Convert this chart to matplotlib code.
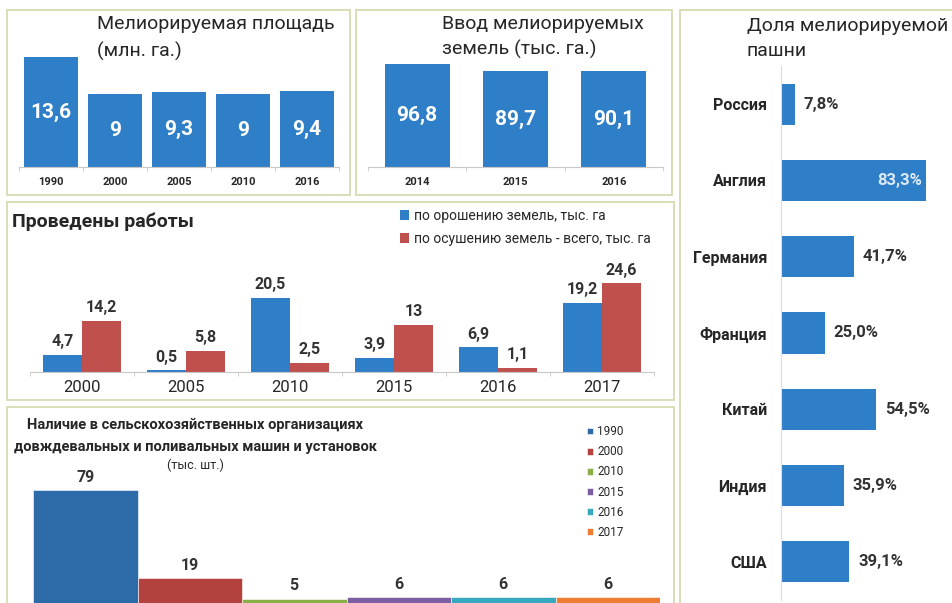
import matplotlib
matplotlib.use('Agg')
import matplotlib.pyplot as plt
from matplotlib.patches import Rectangle
from matplotlib.ticker import FixedLocator
import numpy as np

plt.rcParams['font.family'] = ['Roboto', 'DejaVu Sans']

# --- данные ---
area_years = ['1990', '2000', '2005', '2010', '2016']
area_values = [13.6, 9, 9.3, 9, 9.4]

input_years = ['2014', '2015', '2016']
input_values = [96.8, 89.7, 90.1]

countries = ['Россия', 'Англия', 'Германия', 'Франция', 'Китай', 'Индия', 'США']
country_share = [7.8, 83.3, 41.7, 25.0, 54.5, 35.9, 39.1]

work_years = ['2000', '2005', '2010', '2015', '2016', '2017']
irrigation = [4.7, 0.5, 20.5, 3.9, 6.9, 19.2]
drainage = [14.2, 5.8, 2.5, 13, 1.1, 24.6]

machine_years = ['1990', '2000', '2010', '2015', '2016', '2017']
machines = [79, 19, 5, 6, 6, 6]

BLUE = '#2f7ec8'
RED = '#c0504d'
machine_colors = ['#2c6aa8', '#b3413e', '#8aaf47', '#7c5ea3', '#38a7c0', '#ec7d33']
BORDER = '#d5dbb2'
AXIS = '#c8c8c8'
TXT = '#262626'

W, H = 952, 603
fig = plt.figure(figsize=(W / 100, H / 100), dpi=100)


def px_axes(x0, y0, x1, y1):
    return fig.add_axes([x0 / W, 1 - y1 / H, (x1 - x0) / W, (y1 - y0) / H])


def box(x0, y0, x1, y1):
    fig.add_artist(Rectangle((x0 / W, 1 - y1 / H), (x1 - x0) / W, (y1 - y0) / H,
                             transform=fig.transFigure, fill=False, ec=BORDER, lw=1.3))


def ftext(x, y, s, **kw):
    fig.text(x / W, 1 - y / H, s, color=TXT, **kw)


def comma(v):
    return f'{v:g}'.replace('.', ',')


def bottom_axis(ax, n):
    for s in ['top', 'right', 'left']:
        ax.spines[s].set_visible(False)
    ax.spines['bottom'].set_color(AXIS)
    ax.set_yticks([])
    ax.set_xticks(range(n))
    ax.xaxis.set_minor_locator(FixedLocator(np.arange(n + 1) - 0.5))
    ax.tick_params(axis='x', which='major', length=0)
    ax.tick_params(axis='x', which='minor', length=3, color=AXIS, direction='out')
    ax.set_facecolor('none')


box(7, 10, 350, 195)
box(356, 10, 672, 195)
box(680, 10, 965, 620)
box(7, 202, 674, 400)
box(7, 407, 674, 620)

# 1. Мелиорируемая площадь
ax1 = px_axes(19, 20, 339, 167)
x = np.arange(len(area_years))
ax1.bar(x, area_values, width=0.83, color=BLUE)
for xi, v in zip(x, area_values):
    ax1.text(xi, v / 2, comma(v), ha='center', va='center', color='white',
             fontsize=15, fontweight='bold')
ax1.set_xlim(-0.5, 4.5)
ax1.set_ylim(0, 18.2)
bottom_axis(ax1, len(area_years))
ax1.set_xticklabels(area_years, fontsize=8, fontweight='bold', color=TXT)
ax1.tick_params(axis='x', which='major', pad=7.5)
ftext(97, 24, 'Мелиорируемая площадь', fontsize=14, va='center')
ftext(97, 51, '(млн. га.)', fontsize=14, va='center')

# 2. Ввод мелиорируемых земель
ax2 = px_axes(368, 20, 663, 167)
x = np.arange(len(input_years))
ax2.bar(x, input_values, width=0.66, color=BLUE)
for xi, v in zip(x, input_values):
    ax2.text(xi, v / 2, comma(v), ha='center', va='center', color='white',
             fontsize=15, fontweight='bold')
ax2.set_xlim(-0.5, 2.5)
ax2.set_ylim(0, 138)
bottom_axis(ax2, len(input_years))
ax2.set_xticklabels(input_years, fontsize=8, fontweight='bold', color=TXT)
ax2.tick_params(axis='x', which='major', pad=7.5)
ftext(442, 24, 'Ввод мелиорируемых', fontsize=14, va='center')
ftext(442, 49, 'земель (тыс. га.)', fontsize=14, va='center')

# 3. Доля мелиорируемой пашни
ax3 = px_axes(781, 66, 945, 600)
y = np.arange(len(countries))
ax3.barh(y, country_share, height=0.54, color=BLUE)
for yi, v in zip(y, country_share):
    s = f'{v:.1f}'.replace('.', ',') + '%'
    if v > 70:
        ax3.annotate(s, (v, yi), xytext=(-3, 0), textcoords='offset points',
                     ha='right', va='center', color='#dce9f6', fontsize=12, fontweight='bold')
    else:
        ax3.annotate(s, (v, yi), xytext=(6.5, 0), textcoords='offset points',
                     ha='left', va='center', color='#333333', fontsize=12, fontweight='bold')
ax3.set_ylim(6.5, -0.5)
ax3.set_xlim(0, 94.2)
for s in ['top', 'right', 'bottom']:
    ax3.spines[s].set_visible(False)
ax3.spines['left'].set_color('#dcdcdc')
ax3.set_xticks([])
ax3.set_yticks(y)
ax3.set_yticklabels(countries, fontsize=11.5, fontweight='bold', color=TXT)
ax3.tick_params(axis='y', length=0, pad=10)
ax3.set_facecolor('none')
ftext(747, 26, 'Доля мелиорируемой', fontsize=14, va='center')
ftext(747, 51, 'пашни', fontsize=14, va='center')

# 4. Проведены работы
ax4 = px_axes(30, 205, 654, 372)
x = np.arange(len(work_years))
bw = 0.375
b1 = ax4.bar(x - bw / 2, irrigation, width=bw, color=BLUE, label='по орошению земель, тыс. га')
b2 = ax4.bar(x + bw / 2, drainage, width=bw, color=RED, label='по осушению земель - всего, тыс. га')
for xs, vals in [(x - bw / 2, irrigation), (x + bw / 2, drainage)]:
    for xi, v in zip(xs, vals):
        ax4.annotate(comma(v), (xi, v), xytext=(0, 4), textcoords='offset points',
                     ha='center', va='bottom', fontsize=11.5, fontweight='bold', color='#333333')
ax4.set_xlim(-0.5, 5.5)
ax4.set_ylim(0, 46.2)
bottom_axis(ax4, len(work_years))
ax4.set_xticklabels(work_years, fontsize=12, color=TXT)
ax4.tick_params(axis='x', which='major', pad=5.5)
ftext(12, 222, 'Проведены работы', fontsize=14, fontweight='bold', va='center')
ax4.legend(handles=[b1, b2], loc='upper left', bbox_to_anchor=(390 / W, 1 - 199 / H),
           bbox_transform=fig.transFigure, frameon=False, fontsize=10,
           handlelength=0.7, handleheight=0.7, handletextpad=0.3,
           labelspacing=0.65, borderpad=0.2, labelcolor=TXT)

# 5. Наличие машин
ax5 = px_axes(33, 410, 660, 606)
x = np.arange(len(machine_years))
bars5 = ax5.bar(x, machines, width=1.0, color=machine_colors, edgecolor='white', linewidth=0.4)
for xi, v in zip(x, machines):
    ax5.annotate(str(v), (xi, v), xytext=(0, 4), textcoords='offset points',
                 ha='center', va='bottom', fontsize=11.5, fontweight='bold', color='#333333')
ax5.set_xlim(-0.5, 5.5)
ax5.set_ylim(0, 133.6)
ax5.axis('off')
ftext(195, 425, 'Наличие в сельскохозяйственных организациях', fontsize=10.5,
      fontweight='bold', ha='center', va='center')
ftext(195, 447, 'довждевальных и поливальных машин и установок', fontsize=10.5,
      fontweight='bold', ha='center', va='center')
ftext(195, 465, '(тыс. шт.)', fontsize=9, ha='center', va='center')
ax5.legend(handles=list(bars5), labels=machine_years, loc='upper left',
           bbox_to_anchor=(579 / W, 1 - 417 / H), bbox_transform=fig.transFigure,
           frameon=False, fontsize=8.5, handlelength=0.5, handleheight=0.5,
           handletextpad=0.35, labelspacing=0.6, borderpad=0.2, labelcolor=TXT)

fig.savefig('out.png', dpi=100)
